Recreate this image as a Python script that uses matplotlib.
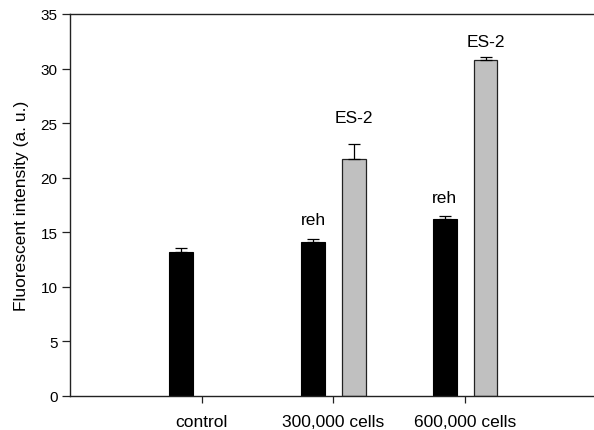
import matplotlib.pyplot as plt
import numpy as np

plt.rcParams['font.family'] = ['Liberation Sans', 'DejaVu Sans']

# --- Data ---
groups = ['control', '300,000 cells', '600,000 cells']
reh_vals = [13.15, 14.1, 16.2]
reh_errs = [0.45, 0.25, 0.3]
es2_vals = [np.nan, 21.7, 30.8]
es2_errs = [0.0, 1.4, 0.3]

# label baselines (data units) for the bar annotations
reh_label_y = [np.nan, 15.76, 17.78]
es2_label_y = [np.nan, 25.1, 32.07]

x = np.arange(1, len(groups) + 1)
off = 0.155
w = 0.18

fig = plt.figure(figsize=(5.94, 4.31), dpi=100)
ax = fig.add_axes([70 / 594, 1 - 397 / 431, 523 / 594, 382 / 431])

ax.bar(x - off, reh_vals, width=w, color='black', edgecolor='black', linewidth=0.8, zorder=2)
ax.errorbar(x - off, reh_vals, yerr=[np.zeros(3), reh_errs], fmt='none',
            ecolor='black', elinewidth=0.9, capsize=4.5, capthick=0.9, zorder=3)

ax.bar(x + off, es2_vals, width=w, color='#c0c0c0', edgecolor='#222222', linewidth=0.9, zorder=2)
ax.errorbar(x + off, es2_vals, yerr=[np.zeros(3), es2_errs], fmt='none',
            ecolor='black', elinewidth=0.9, capsize=4.5, capthick=0.9, zorder=3)

for i in range(len(groups)):
    if not np.isnan(reh_label_y[i]):
        ax.text(x[i] - off, reh_label_y[i], 'reh', ha='center', va='baseline', fontsize=12.5)
    if not np.isnan(es2_label_y[i]):
        ax.text(x[i] + off, es2_label_y[i], 'ES-2', ha='center', va='baseline', fontsize=12.5)

ax.set_xlim(0, 3.97)
ax.set_ylim(0, 35)
ax.set_xticks(x)
ax.set_xticklabels(groups, fontsize=12.5)
ax.set_yticks(np.arange(0, 36, 5))
ax.tick_params(axis='y', labelsize=11, length=6, width=0.9, pad=3, colors='#222222')
ax.tick_params(axis='x', length=5, width=0.9, pad=8, colors='#222222')
for lbl in ax.get_xticklabels() + ax.get_yticklabels():
    lbl.set_color('black')
ax.set_ylabel('Fluorescent intensity (a. u.)', fontsize=12.5, labelpad=8)

ax.spines['right'].set_visible(False)
for s in ['left', 'top', 'bottom']:
    ax.spines[s].set_linewidth(1.0)
    ax.spines[s].set_color('#222222')

fig.savefig('out.png', dpi=100)
